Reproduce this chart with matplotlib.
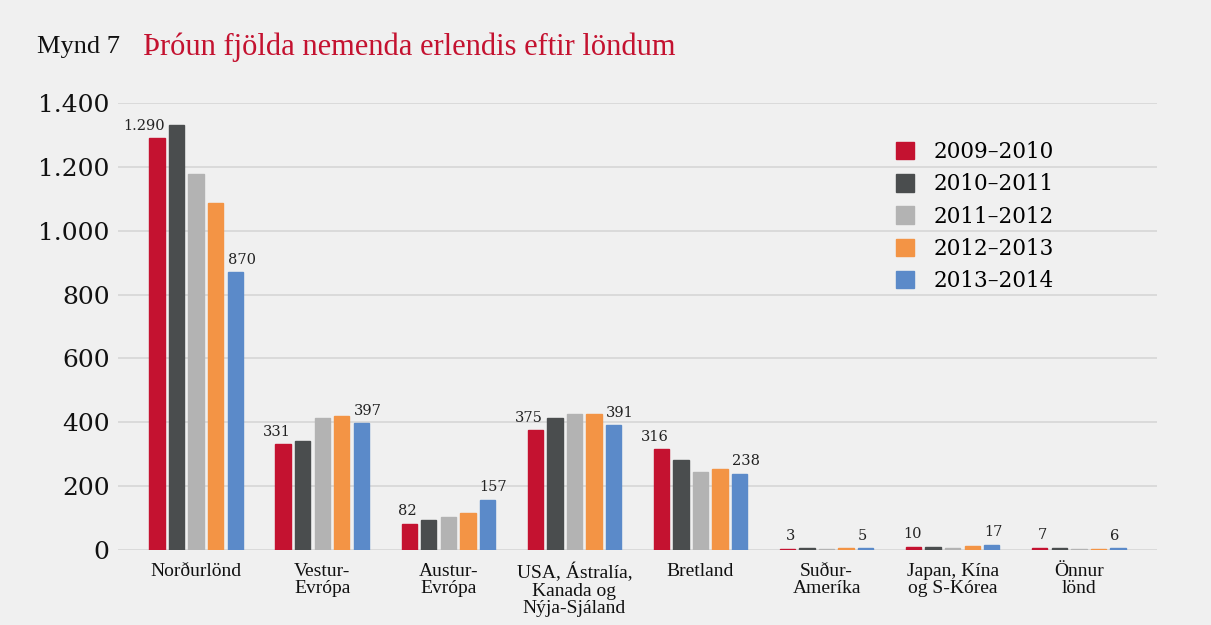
import numpy as np
import matplotlib.pyplot as plt

categories = ['Norðurlönd', 'Vestur-\nEvrópa', 'Austur-\nEvrópa',
              'USA, Ástralía,\nKanada og\nNýja-Sjáland', 'Bretland',
              'Suður-\nAmeríka', 'Japan, Kína\nog S-Kórea', 'Önnur\nlönd']
years = ['2009–2010', '2010–2011', '2011–2012', '2012–2013', '2013–2014']

v2009 = [1290, 331, 82, 375, 316, 3, 10, 7]
v2010 = [1333, 341, 93, 412, 282, 6, 10, 7]
v2011 = [1177, 412, 104, 425, 243, 3, 6, 3]
v2012 = [1087, 421, 116, 425, 255, 5, 11, 4]
v2013 = [870, 397, 157, 391, 238, 5, 17, 6]
series = [v2009, v2010, v2011, v2012, v2013]

colors = ['#c41230', '#4a4d4e', '#b3b3b3', '#f39445', '#5b8ac9']
bg = '#f0f0f0'

serif = ['DejaVu Serif']
cond = ['Liberation Serif']


def fmt(v):
    return f'{v:,}'.replace(',', '.')


fig = plt.figure(figsize=(12.11, 6.25), dpi=100, facecolor=bg)
ax = fig.add_axes([0.0974, 0.12, 0.858, 0.715], facecolor=bg)

x = np.arange(len(categories))
pitch = 0.155
width = 0.122
for i, (vals, c) in enumerate(zip(series, colors)):
    pos = x + (i - 2) * pitch
    ax.bar(pos, vals, width, color=c, label=years[i], zorder=3,
           edgecolor=c, linewidth=1.0)
    if i == 0:
        for p, v in zip(pos, vals):
            ax.annotate(fmt(v), (p + width / 2, v), xytext=(0, 4),
                        textcoords='offset points', ha='right', va='bottom',
                        fontsize=10.5, family=serif, color='#222222')
    if i == 4:
        for p, v in zip(pos, vals):
            ax.annotate(fmt(v), (p - width / 2, v), xytext=(0, 4),
                        textcoords='offset points', ha='left', va='bottom',
                        fontsize=10.5, family=serif, color='#222222')

ax.set_xlim(-0.62, 7.62)
ax.set_ylim(0, 1400)
ax.set_yticks(range(0, 1401, 200))
ax.set_yticklabels([fmt(v) for v in range(0, 1401, 200)], family=serif,
                   fontsize=18, color='#111111')
ax.set_xticks(x)
ax.set_xticklabels(categories, family=cond, fontsize=14, color='#111111',
                   linespacing=1.05, va='top')
ax.tick_params(length=0)
ax.tick_params(axis='y', pad=6)
ax.tick_params(axis='x', pad=9)
ax.grid(axis='y', color='#d6d6d6', linewidth=1.2, zorder=0)
for s in ax.spines.values():
    s.set_visible(False)

leg = ax.legend(loc='upper left', bbox_to_anchor=(0.73, 0.958), frameon=False,
                prop={'family': serif, 'size': 15.5}, handlelength=0.85,
                handleheight=0.85, handletextpad=0.9, labelspacing=0.47)

fig.text(0.0305, 0.925, 'Mynd 7', family=cond, fontsize=19, color='#111111',
         va='center')
fig.text(0.118, 0.925, 'Þróun fjölda nemenda erlendis eftir löndum',
         family=cond, fontsize=22, color='#c41230', va='center')

fig.savefig('out.png', dpi=100, facecolor=bg)
